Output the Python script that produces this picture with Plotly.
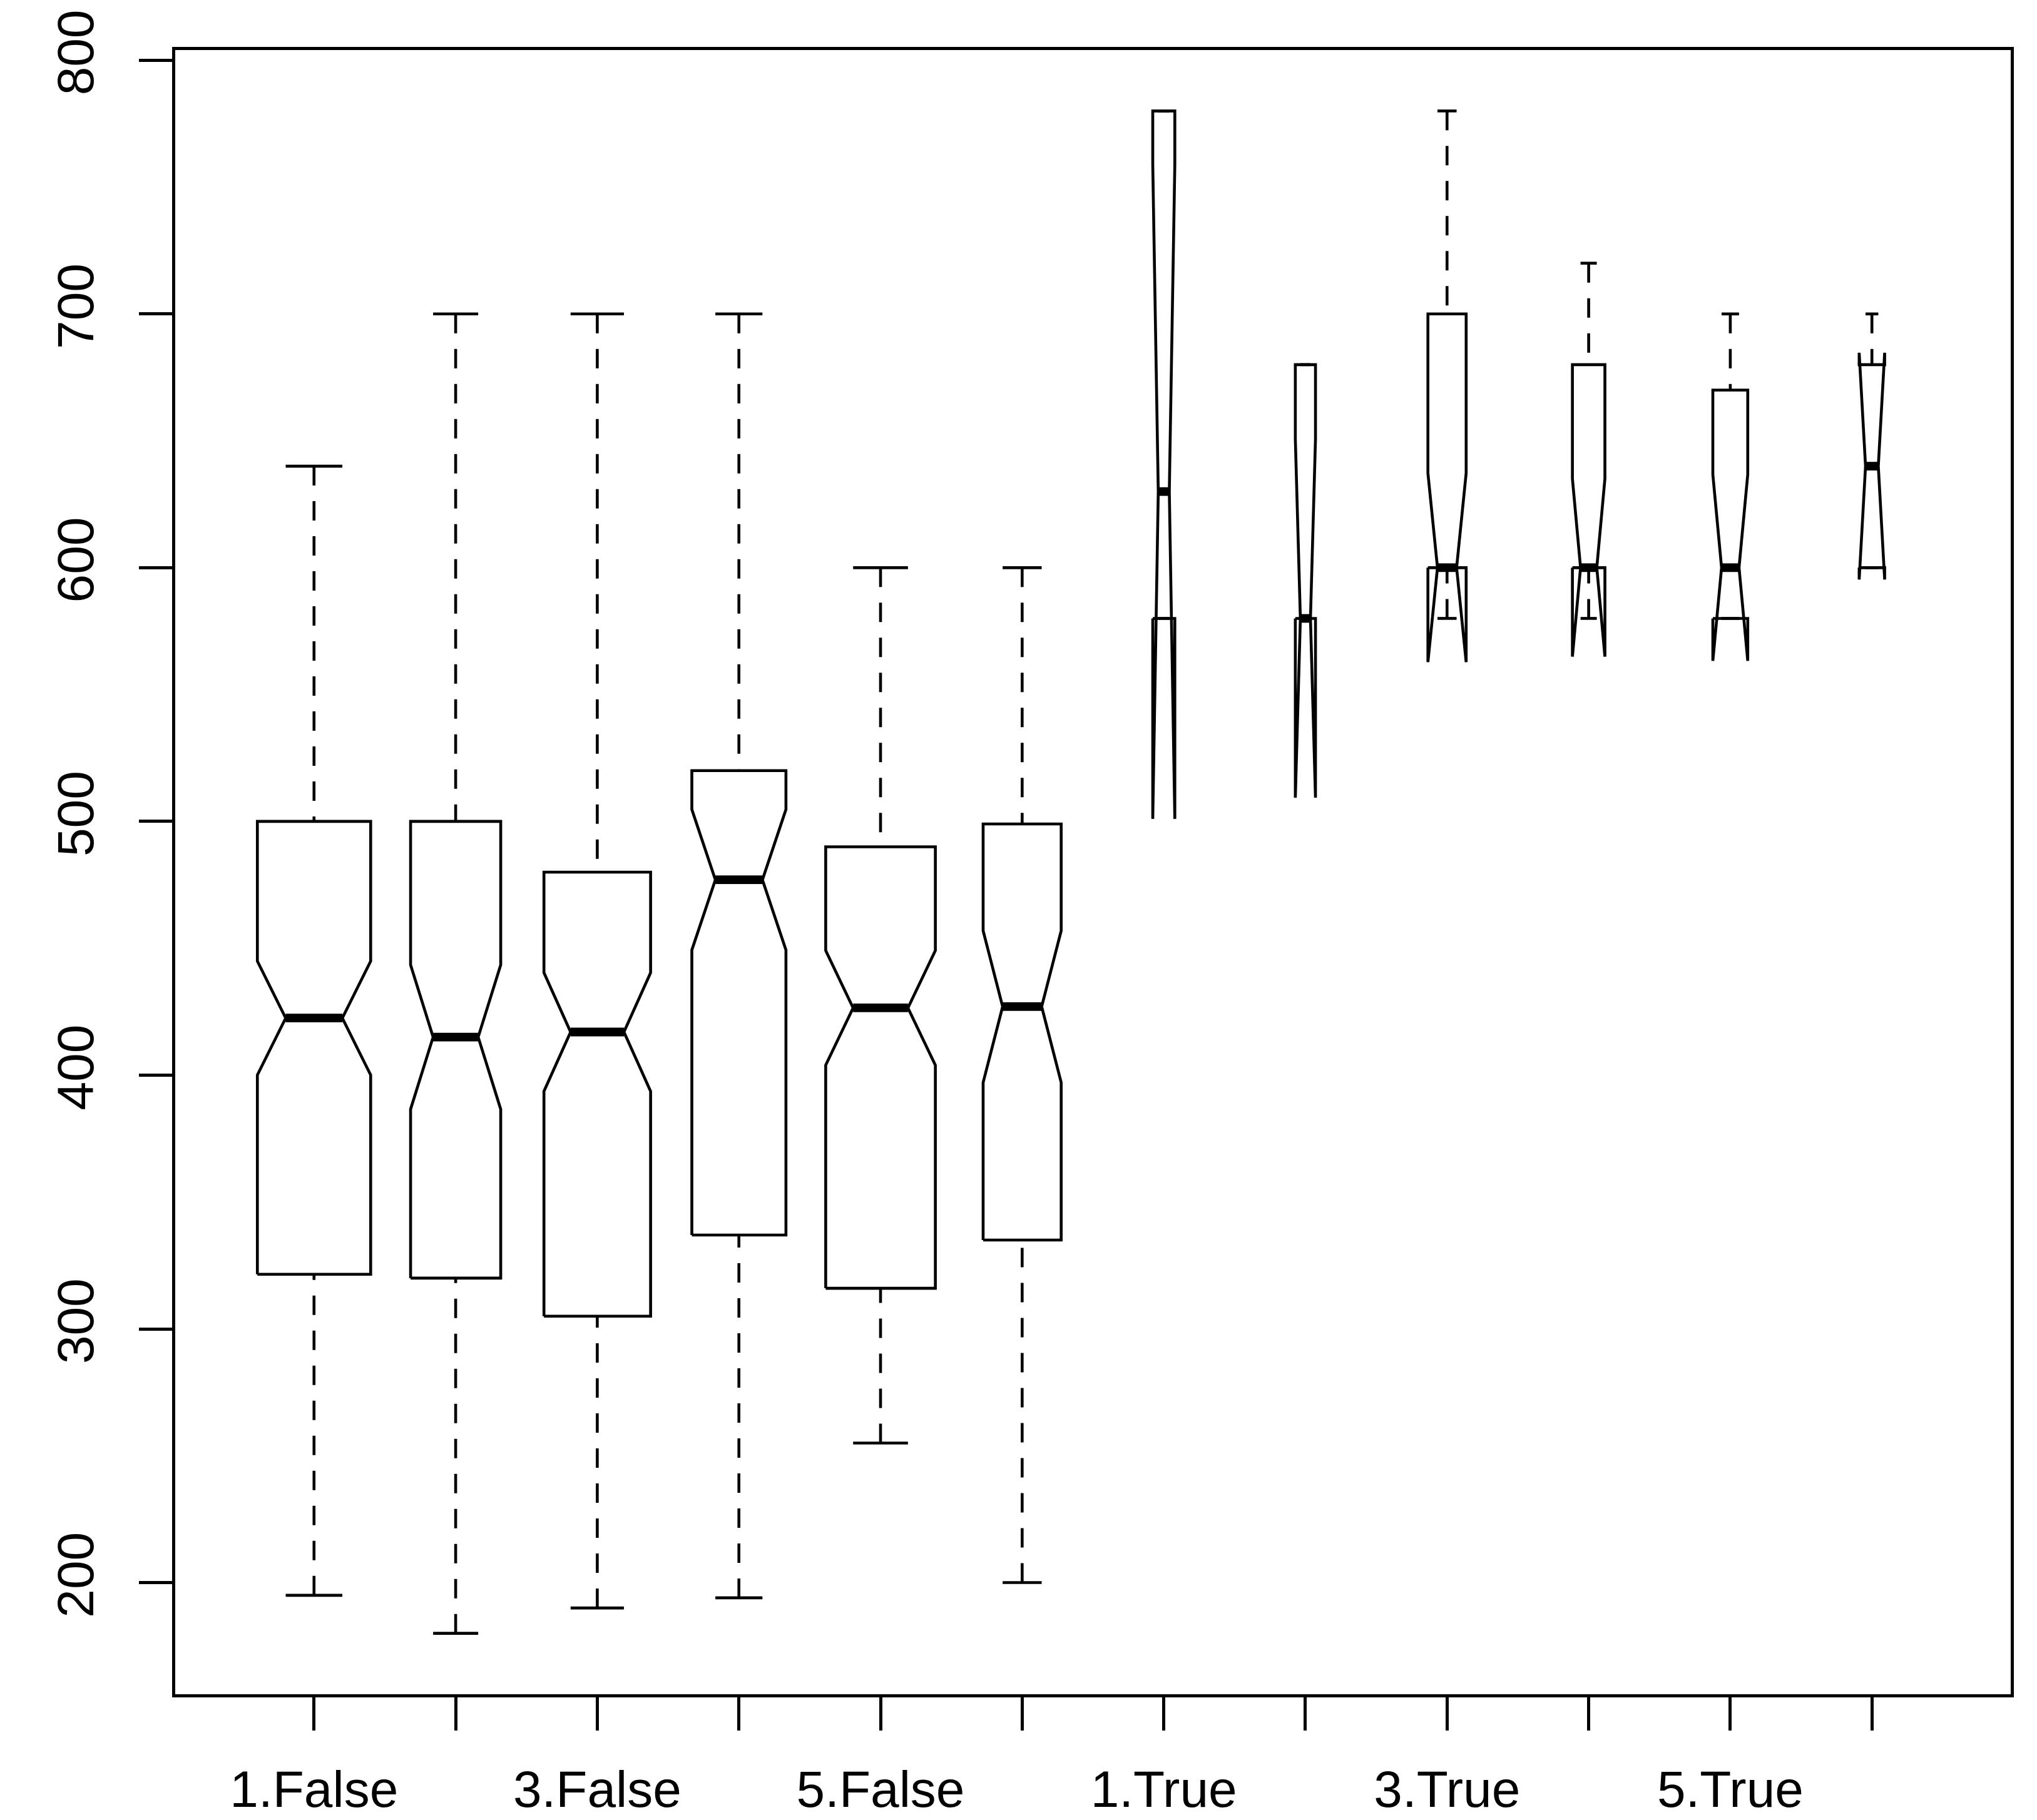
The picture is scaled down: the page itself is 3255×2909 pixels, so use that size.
import numpy as np
import plotly.graph_objects as go

# Groups (condition level . flag) and their five-number summaries
groups = ["1.False", "2.False", "3.False", "4.False", "5.False", "6.False",
          "1.True", "2.True", "3.True", "4.True", "5.True", "6.True"]
whisker_low = [195, 180, 190, 194, 255, 200, 580, 580, 580, 580, 580, 600]
hinge_low = [321.5, 320, 305, 337, 316, 335, 580, 580, 600, 600, 580, 600]
medians = [422.5, 415, 417, 477, 426.5, 427, 630, 580, 600, 600, 600, 640]
hinge_high = [500, 500, 480, 520, 490, 499, 780, 680, 700, 680, 670, 680]
whisker_high = [640, 700, 700, 700, 600, 600, 780, 680, 780, 720, 700, 700]
sample_sizes = [158, 100, 140, 109, 148, 75, 6, 5, 18, 13, 15, 8]

# Only every other group name is printed under the axis
shown_labels = [g if i % 2 == 0 else "" for i, g in enumerate(groups)]
y_ticks = [200, 300, 400, 500, 600, 700, 800]

LINE = 4.6
FONT = dict(family="Liberation Sans, Arial, Helvetica, sans-serif", size=82, color="black")

pos = np.arange(1, len(groups) + 1)
n = np.array(sample_sizes, dtype=float)
q1 = np.array(hinge_low, dtype=float)
q3 = np.array(hinge_high, dtype=float)
med = np.array(medians, dtype=float)
lo = np.array(whisker_low, dtype=float)
hi = np.array(whisker_high, dtype=float)

# variable widths (proportional to sqrt(n)), notches at +/- 1.58*IQR/sqrt(n)
half_w = 0.4 * np.sqrt(n) / np.sqrt(n.max())
notch = 1.58 * (q3 - q1) / np.sqrt(n)

box_x, box_y = [], []
med_x, med_y = [], []
wh_x, wh_y = [], []
st_x, st_y = [], []
for p, hw, a, m, b, nt, l, h in zip(pos, half_w, q1, med, q3, notch, lo, hi):
    xl, xr = p - hw, p + hw
    nl, nr = p - hw / 2, p + hw / 2
    box_x += [xl, xr, xr, nr, xr, xr, xl, xl, nl, xl, xl, None]
    box_y += [a, a, m - nt, m, m + nt, b, b, m + nt, m, m - nt, a, None]
    med_x += [nl, nr, None]
    med_y += [m, m, None]
    if l < a:
        wh_x += [p, p, None]
        wh_y += [l, a, None]
    if h > b:
        wh_x += [p, p, None]
        wh_y += [h, b, None]
    st_x += [nl, nr, None, nl, nr, None]
    st_y += [l, l, None, h, h, None]

fig = go.Figure()
fig.add_trace(go.Scatter(x=wh_x, y=wh_y, mode="lines", hoverinfo="skip",
                         line=dict(color="black", width=LINE, dash="31px,25px")))
fig.add_trace(go.Scatter(x=st_x, y=st_y, mode="lines", hoverinfo="skip",
                         line=dict(color="black", width=LINE)))
fig.add_trace(go.Scatter(x=box_x, y=box_y, mode="lines", hoverinfo="skip",
                         line=dict(color="black", width=LINE)))
fig.add_trace(go.Scatter(x=med_x, y=med_y, mode="lines", hoverinfo="skip",
                         line=dict(color="black", width=3 * LINE)))

fig.update_layout(
    width=3255, height=2909,
    margin=dict(l=280, r=42, t=80, b=201),
    paper_bgcolor="white", plot_bgcolor="white",
    showlegend=False,
    font=FONT,
    xaxis=dict(range=[0.02, 12.98], tickmode="array", tickvals=list(pos),
               ticktext=shown_labels, ticks="outside", ticklen=53, tickwidth=LINE,
               tickcolor="black", showline=True, linewidth=LINE, linecolor="black",
               mirror=True, showgrid=False, zeroline=False, tickfont=FONT,
               ticklabelstandoff=24, automargin=False),
    yaxis=dict(range=[156, 804], tickmode="array", tickvals=y_ticks,
               ticktext=[str(v) for v in y_ticks], tickangle=-90,
               ticks="outside", ticklen=53, tickwidth=LINE, tickcolor="black",
               showline=True, linewidth=LINE, linecolor="black", mirror=True,
               showgrid=False, zeroline=False, tickfont=FONT,
               ticklabelstandoff=40, automargin=False),
)

fig.write_html("out.html")
